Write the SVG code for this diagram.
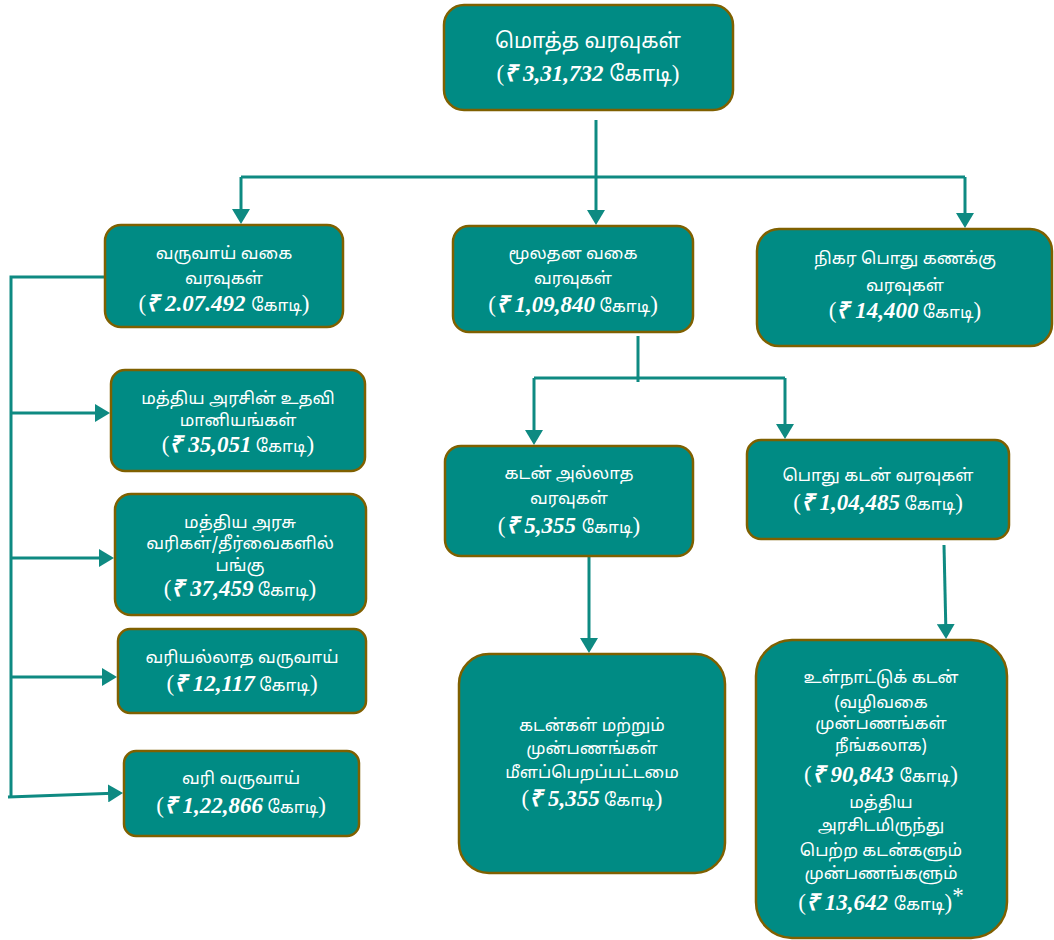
<svg xmlns="http://www.w3.org/2000/svg" width="1054" height="940" viewBox="0 0 1054 940">
<style>
.box{fill:#008B84;stroke:#7F6000;stroke-width:2.5}
.t{fill:#fff;font-family:"Noto Sans Tamil","Lohit Tamil","Noto Sans",sans-serif;font-size:17px;text-anchor:middle}
.n{font-family:"Liberation Serif",serif;font-style:italic;font-weight:bold;font-size:23px}
.p{font-family:"Liberation Serif",serif;font-size:23px}
.big{font-size:21px}
.c{fill:none;stroke:#0E8A82;stroke-width:3}
</style>
<defs>
<marker id="ah" markerWidth="6" markerHeight="6" refX="4" refY="3" orient="auto" markerUnits="strokeWidth">
<path d="M0,0 L5,3 L0,6 z" fill="#0E8A82"/>
</marker>
</defs>
<rect width="1054" height="940" fill="#fff"/>
<g id="connectors">
<path class="c" d="M596,120 V222" marker-end="url(#ah)"/>
<path class="c" d="M241,177 H965"/>
<path class="c" d="M241,177 V221" marker-end="url(#ah)"/>
<path class="c" d="M965,177 V225" marker-end="url(#ah)"/>
<path class="c" d="M638,336 V382"/>
<path class="c" d="M534,378 H785"/>
<path class="c" d="M534,378 V442" marker-end="url(#ah)"/>
<path class="c" d="M785,378 V436" marker-end="url(#ah)"/>
<path class="c" d="M589,557 V650" marker-end="url(#ah)"/>
<path class="c" d="M944,545 L946,636" marker-end="url(#ah)"/>
<path class="c" d="M105,277 H11 V798"/>
<path class="c" d="M11,413 H107" marker-end="url(#ah)"/>
<path class="c" d="M11,558 H111" marker-end="url(#ah)"/>
<path class="c" d="M11,677 H114" marker-end="url(#ah)"/>
<path class="c" d="M8,797 L120,793" marker-end="url(#ah)"/>
</g>
<g id="total">
<rect class="box" x="444" y="5" width="289" height="105" rx="20"/>
<text class="t big" x="588" y="48">மொத்த வரவுகள்</text>
<text class="t big" x="588" y="81"><tspan class="p" font-size="26">(</tspan><tspan class="n" font-size="26">₹ 3,31,732 </tspan> கோடி<tspan class="p" font-size="26">)</tspan></text>
</g>
<g id="revenue">
<rect class="box" x="105" y="225" width="238" height="102" rx="16"/>
<text class="t" x="224" y="259">வருவாய் வகை</text>
<text class="t" x="224" y="284">வரவுகள்</text>
<text class="t" x="224" y="311"><tspan class="p">(</tspan><tspan class="n">₹ 2.07.492 </tspan> கோடி<tspan class="p">)</tspan></text>
</g>
<g id="capital">
<rect class="box" x="453" y="226" width="240" height="106" rx="16"/>
<text class="t" x="573" y="259">மூலதன வகை</text>
<text class="t" x="573" y="284">வரவுகள்</text>
<text class="t" x="573" y="312"><tspan class="p">(</tspan><tspan class="n">₹ 1,09,840</tspan> கோடி<tspan class="p">)</tspan></text>
</g>
<g id="public-account">
<rect class="box" x="757" y="229" width="295" height="117" rx="22"/>
<text class="t" x="905" y="264">நிகர பொது கணக்கு</text>
<text class="t" x="905" y="291">வரவுகள்</text>
<text class="t" x="905" y="318"><tspan class="p">(</tspan><tspan class="n">₹ 14,400</tspan> கோடி<tspan class="p">)</tspan></text>
</g>
<g id="grants">
<rect class="box" x="111" y="370" width="254" height="101" rx="14"/>
<text class="t" x="238" y="404">மத்திய அரசின் உதவி</text>
<text class="t" x="238" y="426">மானியங்கள்</text>
<text class="t" x="238" y="452"><tspan class="p">(</tspan><tspan class="n">₹ 35,051</tspan> கோடி<tspan class="p">)</tspan></text>
</g>
<g id="share-taxes">
<rect class="box" x="115" y="494" width="251" height="121" rx="16"/>
<text class="t" x="240" y="528">மத்திய அரசு</text>
<text class="t" x="240" y="549">வரிகள்/தீர்வைகளில்</text>
<text class="t" x="240" y="571">பங்கு</text>
<text class="t" x="240" y="596"><tspan class="p">(</tspan><tspan class="n">₹ 37,459</tspan> கோடி<tspan class="p">)</tspan></text>
</g>
<g id="non-tax">
<rect class="box" x="118" y="629" width="248" height="84" rx="12"/>
<text class="t" x="242" y="663">வரியல்லாத வருவாய்</text>
<text class="t" x="242" y="691"><tspan class="p">(</tspan><tspan class="n">₹ 12,117</tspan> கோடி<tspan class="p">)</tspan></text>
</g>
<g id="tax">
<rect class="box" x="124" y="751" width="235" height="85" rx="12"/>
<text class="t" x="241" y="784">வரி வருவாய்</text>
<text class="t" x="241" y="813"><tspan class="p">(</tspan><tspan class="n">₹ 1,22,866</tspan> கோடி<tspan class="p">)</tspan></text>
</g>
<g id="non-debt">
<rect class="box" x="445" y="446" width="248" height="110" rx="16"/>
<text class="t" x="569" y="479">கடன் அல்லாத</text>
<text class="t" x="569" y="504">வரவுகள்</text>
<text class="t" x="569" y="533"><tspan class="p">(</tspan><tspan class="n">₹ 5,355 </tspan> கோடி<tspan class="p">)</tspan></text>
</g>
<g id="public-debt">
<rect class="box" x="747" y="440" width="262" height="99" rx="14"/>
<text class="t" x="878" y="481">பொது கடன் வரவுகள்</text>
<text class="t" x="878" y="510"><tspan class="p">(</tspan><tspan class="n">₹ 1,04,485</tspan> கோடி<tspan class="p">)</tspan></text>
</g>
<g id="recoveries">
<rect class="box" x="459" y="654" width="266" height="219" rx="30"/>
<text class="t" x="592" y="731">கடன்கள் மற்றும்</text>
<text class="t" x="592" y="754">முன்பணங்கள்</text>
<text class="t" x="592" y="778">மீளப்பெறப்பட்டமை</text>
<text class="t" x="592" y="806"><tspan class="p">(</tspan><tspan class="n">₹ 5,355</tspan> கோடி<tspan class="p">)</tspan></text>
</g>
<g id="internal-debt">
<rect class="box" x="756" y="640" width="251" height="298" rx="36"/>
<text class="t" x="881" y="683">உள்நாட்டுக் கடன்</text>
<text class="t" x="881" y="708">(வழிவகை</text>
<text class="t" x="881" y="729">முன்பணங்கள்</text>
<text class="t" x="881" y="751">நீங்கலாக)</text>
<text class="t" x="881" y="782"><tspan class="p">(</tspan><tspan class="n">₹ 90,843 </tspan> கோடி<tspan class="p">)</tspan></text>
<text class="t" x="881" y="808">மத்திய</text>
<text class="t" x="881" y="831">அரசிடமிருந்து</text>
<text class="t" x="881" y="856">பெற்ற கடன்களும்</text>
<text class="t" x="881" y="879">முன்பணங்களும்</text>
<text class="t" x="881" y="910"><tspan class="p">(</tspan><tspan class="n">₹ 13,642 </tspan> கோடி<tspan class="p">)</tspan><tspan class="p" font-size="12" dy="-7">*</tspan></text>
</g>
</svg>
